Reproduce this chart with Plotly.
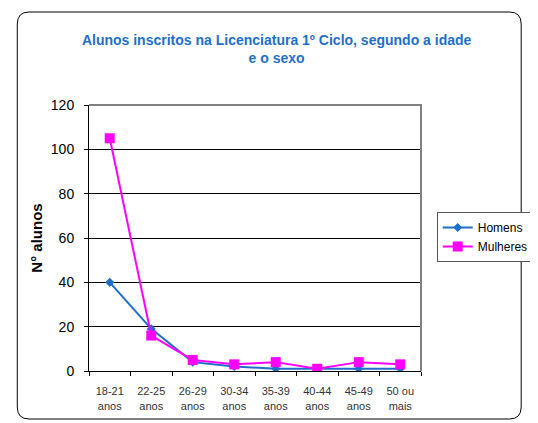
import plotly.graph_objects as go

categorias = ["18-21<br>anos", "22-25<br>anos", "26-29<br>anos", "30-34<br>anos",
              "35-39<br>anos", "40-44<br>anos", "45-49<br>anos", "50 ou<br>mais"]
homens = [40, 19, 4, 2, 1, 1, 1, 1]
mulheres = [105, 16, 5, 3, 4, 1, 4, 3]
y_ticks = [0, 20, 40, 60, 80, 100, 120]

W, H = 538, 423
OFF = 8  # page body margin
# desired plot-area edges in page pixels
PL, PR, PT, PB = 89, 427, 105, 371
pw, ph = PR - PL, PB - PT
L, T = PL - OFF, PT - OFF
R, B = W - L - pw, H - T - ph

def px_x(x):
    return (x - PL) / pw

def px_y(y):
    return (PB - y) / ph

fig = go.Figure()
fig.add_trace(go.Scatter(x=categorias, y=homens, name="Homens", mode="lines+markers",
                         line=dict(color="#1F6FC8", width=2),
                         marker=dict(symbol="diamond", size=7, color="#1F6FC8")))
fig.add_trace(go.Scatter(x=categorias, y=mulheres, name="Mulheres", mode="lines+markers",
                         line=dict(color="#FF00FF", width=2),
                         marker=dict(symbol="square", size=10, color="#FF00FF")))

# outer rounded frame
x0, x1 = px_x(16), px_x(529)
y0, y1 = px_y(419), px_y(12)
rx, ry = 12 / pw, 12 / ph
path = (f"M {x0+rx},{y1} L {x1-rx},{y1} Q {x1},{y1} {x1},{y1-ry} "
        f"L {x1},{y0+ry} Q {x1},{y0} {x1-rx},{y0} L {x0+rx},{y0} "
        f"Q {x0},{y0} {x0},{y0+ry} L {x0},{y1-ry} Q {x0},{y1} {x0+rx},{y1} Z")

fig.update_layout(
    width=W, height=H,
    margin=dict(l=L, r=R, t=T, b=B),
    paper_bgcolor="white", plot_bgcolor="white",
    font=dict(family="Liberation Sans, Arial, sans-serif", color="black"),
    title=dict(text="<b>Alunos inscritos na Licenciatura 1º Ciclo, segundo a idade<br>e o sexo</b>",
               x=px_x(280), xanchor="center", xref="paper", y=1 - 37 / H, yanchor="top",
               font=dict(size=14, color="#1F6FC8")),
    showlegend=True,
    legend=dict(x=px_x(443), y=px_y(212), xanchor="left", yanchor="top",
                bordercolor="#555555", borderwidth=1, bgcolor="white",
                font=dict(size=12), itemwidth=30, tracegroupgap=2),
    xaxis=dict(type="category", range=[-0.5, 7.5], showline=True, linecolor="black",
               linewidth=1, ticks="outside", tickson="boundaries", ticklen=4,
               tickcolor="black", showgrid=False, ticklabelstandoff=10,
               tickfont=dict(size=11, color="#333333")),
    yaxis=dict(range=[0, 120], tickvals=y_ticks, showline=True, linecolor="black",
               linewidth=1, ticks="outside", ticklen=4, tickcolor="black",
               showgrid=True, gridcolor="black", gridwidth=1, zeroline=False,
               ticklabelstandoff=7, tickfont=dict(size=14),
               title=dict(text="<b>N° alunos</b>", font=dict(size=15), standoff=4)),
    shapes=[
        dict(type="path", xref="paper", yref="paper", path=path,
             line=dict(color="black", width=1), fillcolor="rgba(0,0,0,0)", layer="below"),
        dict(type="path", xref="paper", yref="paper", path="M 0,1 L 1,1 L 1,0",
             line=dict(color="#808080", width=2), fillcolor="rgba(0,0,0,0)", layer="above"),
    ],
)

fig.write_html("out.html")
